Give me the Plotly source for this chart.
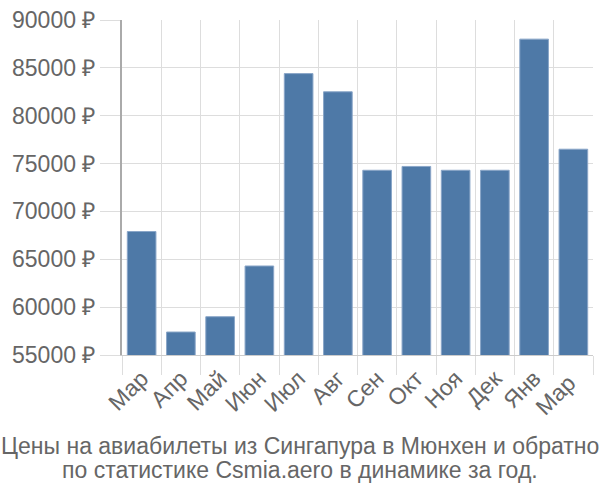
import plotly.graph_objects as go

months = ["Мар", "Апр", "Май", "Июн", "Июл", "Авг", "Сен", "Окт", "Ноя", "Дек", "Янв", "Мар "]
prices = [67900, 57400, 59000, 64300, 84400, 82500, 74300, 74700, 74300, 74300, 88000, 76500]
yticks = [55000, 60000, 65000, 70000, 75000, 80000, 85000, 90000]
ytext = [f"{v} ₽" for v in yticks]
title_lines = ["Цены на авиабилеты из Сингапура в Мюнхен и обратно",
               "по статистике Csmia.aero в динамике за год."]

fig = go.Figure(go.Bar(
    x=months, y=prices,
    marker=dict(color="#4e79a7", line=dict(color="#8aa6c8", width=1)),
    width=0.73,
))
font = dict(family="Liberation Sans, Arial, sans-serif", size=23, color="#666666")
fig.update_layout(
    width=600, height=500,
    margin=dict(l=122, r=7, t=15, b=145),
    plot_bgcolor="white", paper_bgcolor="white",
    showlegend=False,
    font=font,
    bargap=0.27,
)
fig.update_xaxes(
    type="category", tickson="boundaries", tickangle=-45,
    showgrid=True, gridcolor="#dddddd", gridwidth=1,
    ticks="outside", ticklen=19, tickcolor="#dddddd",
    showline=True, linecolor="#cccccc", linewidth=1,
    tickfont=font,
)
fig.update_yaxes(
    range=[55000, 90000], tickvals=yticks, ticktext=ytext,
    showgrid=True, gridcolor="#dddddd", gridwidth=1,
    ticks="outside", ticklen=20, tickcolor="#dddddd",
    showline=True, linecolor="#aaaaaa", linewidth=2,
    zeroline=False, tickfont=font,
)
for line, ypix in zip(title_lines, [447, 472]):
    fig.add_annotation(
        text=line, xref="paper", yref="paper",
        x=(300 - 122) / 471, xanchor="center", y=(355 - ypix) / 340, yanchor="middle",
        showarrow=False, font=font, align="center",
    )
fig.write_html("out.html")
